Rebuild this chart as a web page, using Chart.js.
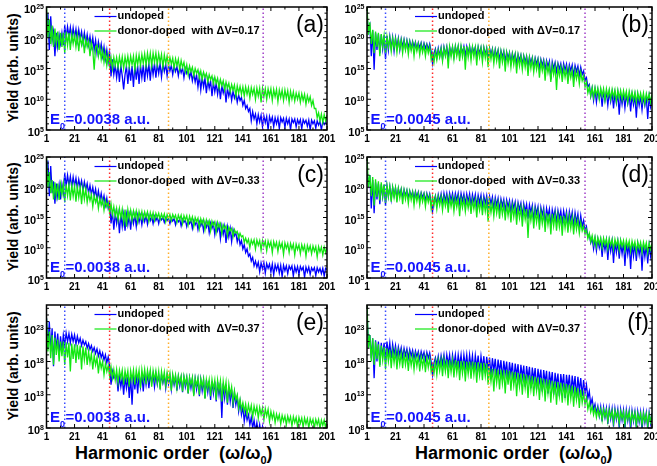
<!DOCTYPE html>
<html>
<head>
<meta charset="utf-8">
<script src="https://cdn.jsdelivr.net/npm/chart.js@4.4.0/dist/chart.umd.min.js"></script>
<style>
body { margin: 0; background: #fff; width: 657px; height: 466px; overflow: hidden; position: relative; font-family: Arial, "Liberation Sans", sans-serif; }
canvas { position: absolute; }
.ytitle { position: absolute; left: 13px; font-weight: bold; font-size: 14px; white-space: nowrap; transform: translate(-50%, -50%) rotate(-90deg); }
.xtitle { position: absolute; top: 444px; font-weight: bold; font-size: 18px; line-height: 18px; white-space: nowrap; }
.xtitle sub { font-size: 11px; }
</style>
</head>
<body>
<div class="ytitle" style="top:68px">Yield (arb. units)</div>
<div class="ytitle" style="top:217px">Yield (arb. units)</div>
<div class="ytitle" style="top:366px">Yield (arb. units)</div>
<div class="xtitle" style="left:75px">Harmonic order&nbsp; (ω/ω<sub>0</sub>)</div>
<div class="xtitle" style="left:415px">Harmonic order&nbsp; (ω/ω<sub>0</sub>)</div>
<script>
// Orden armónico (eje x) y etiquetas
const harmonicOrder = Array.from({ length: 201 }, (_, i) => i + 1);
const xTickLabels = ['1', '21', '41', '61', '81', '101', '121', '141', '161', '181', '201'];

// Líneas verticales punteadas (columna izquierda / derecha)
const vlinesLeft = [14, 46, 88, 155.5];
const vlinesRight = [14, 47, 86.5, 154];
const vlineColors = ['#3a4dff', '#ff2a2a', '#ffae2a', '#a040c8'];

// Rendimiento, log10 (arb. units), un valor por armónico 1..201
const undopedA = [
  21.5, 24.0, 18.0, 23.5, 19.5, 21.0, 17.0, 20.8, 18.5, 20.5,
  19.0, 20.8, 18.8, 22.0, 20.0, 21.8, 20.2, 21.7, 19.8, 21.6,
  20.0, 21.4, 19.5, 21.3, 19.8, 21.0, 19.2, 20.8, 19.0, 20.5,
  18.8, 20.2, 18.5, 20.0, 18.0, 19.6, 17.5, 19.3, 17.8, 19.0,
  17.0, 18.5, 16.5, 18.0, 16.0, 17.5, 13.7, 16.5, 14.0, 15.5,
  13.5, 15.6, 12.8, 15.5, 13.8, 11.6, 14.0, 15.4, 12.5, 15.3,
  13.0, 15.4, 12.0, 15.5, 13.2, 15.5, 12.5, 15.6, 13.5, 15.6,
  12.8, 15.7, 13.8, 15.7, 13.0, 15.8, 14.0, 15.8, 13.5, 15.8,
  14.2, 15.8, 13.6, 15.7, 14.5, 15.7, 13.8, 15.6, 14.6, 15.5,
  14.0, 15.4, 14.5, 15.3, 13.8, 15.2, 14.3, 15.1, 13.5, 15.0,
  14.2, 14.8, 13.5, 14.5, 13.0, 14.2, 12.8, 14.0, 12.0, 13.8,
  11.5, 13.6, 12.0, 13.4, 11.0, 13.2, 11.8, 13.0, 10.5, 12.8,
  11.2, 12.6, 10.8, 12.4, 10.0, 12.2, 11.0, 12.0, 9.5, 11.8,
  10.5, 11.5, 9.8, 11.3, 10.2, 11.0, 9.5, 10.7, 9.8, 10.3,
  9.0, 9.8, 8.5, 9.0, 8.0, 8.5, 6.5, 8.0, 6.8, 7.6,
  6.0, 7.5, 6.3, 7.4, 5.5, 7.3, 6.2, 7.2, 5.0, 7.2,
  6.3, 7.1, 5.5, 7.0, 6.0, 7.0, 5.2, 7.0, 6.3, 6.9,
  5.4, 6.9, 6.0, 6.8, 5.0, 6.8, 6.2, 6.8, 5.5, 6.7,
  6.0, 6.7, 5.2, 6.7, 6.1, 6.6, 5.6, 6.6, 5.0, 6.6,
  6.0, 6.5, 5.3, 6.5, 5.8, 6.4, 5.0, 6.4, 5.9, 6.3,
  5.8
];
const dopedA = [
  25.0, 20.0, 23.0, 19.0, 22.0, 18.5, 21.5, 19.0, 21.0, 18.0,
  20.8, 18.5, 20.8, 17.5, 21.0, 18.8, 20.8, 18.0, 20.6, 19.0,
  20.5, 18.5, 20.4, 17.8, 20.2, 18.8, 20.0, 17.5, 19.8, 18.5,
  19.5, 17.0, 19.2, 18.0, 14.8, 18.5, 18.8, 17.0, 18.5, 16.5,
  18.0, 16.0, 17.6, 15.5, 17.2, 15.5, 16.8, 15.0, 16.8, 15.5,
  16.8, 15.2, 16.9, 15.4, 16.9, 15.0, 16.9, 15.5, 17.0, 15.3,
  17.0, 15.6, 17.0, 14.8, 17.1, 15.6, 17.2, 15.5, 17.3, 15.8,
  17.4, 15.5, 17.5, 15.9, 17.5, 15.4, 17.5, 16.0, 17.5, 15.6,
  17.4, 16.0, 17.3, 15.2, 17.2, 15.8, 17.0, 15.5, 16.8, 15.7,
  16.7, 15.0, 16.6, 15.5, 16.5, 14.8, 16.3, 15.2, 16.0, 14.5,
  15.6, 14.0, 15.4, 14.5, 15.2, 13.8, 15.0, 14.2, 14.8, 13.5,
  14.6, 13.2, 14.4, 13.6, 14.2, 12.8, 14.0, 13.2, 13.8, 12.5,
  13.6, 12.6, 13.4, 11.8, 13.2, 12.2, 13.0, 11.5, 12.8, 11.8,
  12.6, 11.2, 12.4, 11.5, 12.3, 10.5, 12.2, 11.0, 12.1, 10.8,
  12.0, 10.5, 12.0, 10.8, 11.9, 10.2, 11.9, 10.8, 11.8, 10.0,
  11.8, 10.5, 11.8, 9.5, 11.8, 10.4, 11.7, 10.0, 11.7, 10.5,
  11.7, 9.8, 11.6, 10.4, 11.6, 9.6, 11.5, 10.3, 11.5, 9.8,
  11.5, 10.2, 11.4, 9.5, 11.3, 10.0, 11.2, 9.7, 11.0, 10.0,
  11.0, 9.5, 10.9, 9.8, 10.8, 9.2, 10.6, 9.6, 10.4, 9.0,
  9.8, 8.5, 8.5, 7.0, 7.8, 6.5, 7.6, 6.2, 7.5, 6.5,
  7.4
];
const undopedB = [
  23.5, 21.0, 22.0, 17.0, 21.2, 14.8, 20.8, 18.0, 20.6, 17.5,
  20.5, 18.2, 20.4, 16.5, 20.3, 18.0, 20.2, 18.3, 20.1, 17.8,
  20.0, 18.4, 19.9, 18.0, 19.8, 18.5, 19.7, 18.2, 19.6, 18.4,
  19.5, 18.3, 19.4, 18.5, 19.3, 18.2, 19.2, 18.4, 19.2, 18.0,
  19.1, 18.3, 19.0, 18.1, 19.0, 17.8, 15.8, 17.5, 18.2, 16.8,
  18.3, 17.0, 18.4, 16.5, 18.5, 17.2, 18.5, 16.8, 18.5, 17.3,
  18.5, 16.9, 18.6, 17.4, 18.6, 17.0, 18.6, 17.5, 18.6, 17.1,
  18.6, 17.5, 18.6, 17.2, 18.5, 17.6, 18.5, 17.0, 18.5, 17.4,
  18.4, 16.8, 18.4, 17.3, 18.3, 16.5, 18.3, 17.2, 18.2, 16.6,
  18.1, 17.0, 18.0, 16.4, 17.9, 16.9, 17.8, 16.2, 17.7, 16.7,
  17.6, 16.0, 17.5, 16.5, 17.4, 15.8, 17.3, 16.3, 17.2, 15.6,
  17.1, 16.1, 17.0, 15.4, 16.9, 15.9, 16.8, 15.2, 16.7, 15.7,
  16.6, 15.0, 16.5, 15.5, 16.4, 14.8, 16.3, 15.3, 16.2, 13.2,
  16.1, 15.0, 16.0, 14.5, 15.9, 14.9, 15.8, 14.2, 15.8, 14.7,
  15.7, 14.0, 15.6, 14.6, 15.6, 13.8, 15.5, 14.5, 15.4, 13.8,
  15.2, 14.0, 14.6, 13.0, 13.5, 12.0, 12.4, 10.5, 11.8, 9.8,
  11.6, 9.5, 11.5, 10.2, 11.4, 8.8, 11.3, 9.8, 11.2, 9.0,
  11.2, 9.6, 11.1, 8.5, 11.0, 9.4, 11.0, 7.5, 10.9, 9.2,
  10.9, 8.6, 10.8, 9.3, 10.8, 8.0, 10.7, 9.1, 10.6, 7.0,
  10.6, 9.0, 10.5, 8.3, 10.5, 9.0, 10.4, 6.8, 10.4, 8.8,
  10.3
];
const dopedB = [
  25.0, 20.5, 22.5, 19.0, 21.3, 17.5, 21.0, 18.5, 20.8, 17.0,
  20.6, 18.6, 20.4, 17.5, 20.2, 18.5, 20.0, 17.8, 19.9, 18.3,
  19.8, 17.6, 19.7, 18.2, 19.6, 17.5, 19.5, 18.0, 19.4, 17.3,
  19.3, 17.9, 19.2, 17.0, 19.1, 17.8, 19.0, 17.2, 18.9, 17.6,
  18.8, 17.0, 18.7, 17.5, 18.6, 16.5, 17.5, 16.0, 17.8, 16.4,
  18.0, 16.8, 18.2, 16.2, 18.3, 17.0, 18.4, 15.0, 18.5, 16.9,
  18.5, 16.5, 18.6, 17.0, 18.6, 16.2, 18.6, 16.9, 18.6, 14.8,
  18.6, 16.8, 18.5, 16.3, 18.5, 16.9, 18.4, 15.5, 18.4, 16.8,
  18.3, 16.0, 18.3, 16.7, 18.2, 15.2, 18.1, 16.5, 18.0, 15.8,
  17.9, 16.2, 17.8, 15.0, 17.7, 16.0, 17.6, 14.5, 17.5, 15.8,
  17.4, 15.2, 17.3, 15.6, 17.2, 14.2, 17.1, 15.4, 17.0, 14.8,
  16.9, 15.2, 16.8, 13.8, 16.7, 15.0, 16.6, 14.4, 16.4, 14.8,
  16.3, 13.5, 16.1, 14.6, 16.0, 13.0, 15.8, 14.3, 15.6, 12.8,
  15.5, 14.0, 15.4, 11.5, 15.3, 13.8, 15.2, 12.8, 15.1, 13.6,
  15.0, 12.5, 14.9, 13.5, 14.8, 12.0, 14.7, 13.3, 14.6, 12.5,
  14.4, 13.0, 13.8, 12.0, 12.8, 11.0, 12.0, 10.5, 11.9, 10.3,
  11.9, 10.6, 11.8, 10.0, 11.8, 10.5, 11.7, 9.8, 11.7, 10.4,
  11.6, 10.0, 11.6, 10.3, 11.5, 9.6, 11.5, 10.2, 11.4, 9.9,
  11.4, 10.1, 11.3, 9.5, 11.3, 10.0, 11.2, 9.8, 11.1, 9.4,
  11.1, 9.9, 11.0, 9.6, 11.0, 9.3, 10.9, 9.8, 10.9, 9.5,
  10.8
];
const undopedC = [
  21.0, 24.4, 18.5, 23.5, 19.0, 21.0, 17.3, 20.6, 18.5, 20.4,
  18.0, 20.5, 19.0, 22.3, 20.2, 22.0, 20.3, 21.8, 20.0, 21.7,
  20.2, 21.5, 19.8, 21.3, 20.0, 21.1, 19.5, 20.9, 19.6, 20.6,
  19.0, 20.3, 18.8, 20.0, 18.5, 19.7, 18.0, 19.4, 17.8, 19.0,
  17.5, 18.6, 17.0, 18.2, 16.5, 17.3, 14.0, 16.0, 13.0, 15.7,
  14.0, 15.6, 12.4, 15.6, 13.5, 15.5, 12.8, 15.5, 13.8, 15.4,
  13.0, 15.4, 14.0, 15.4, 13.5, 15.4, 14.2, 15.3, 13.8, 15.3,
  14.3, 15.3, 13.9, 15.3, 14.5, 15.2, 14.0, 15.2, 14.5, 15.1,
  14.0, 15.1, 14.6, 15.0, 14.2, 15.0, 14.5, 14.9, 14.0, 14.9,
  14.4, 14.8, 13.8, 14.8, 14.3, 14.7, 13.6, 14.7, 14.2, 14.6,
  13.5, 14.6, 14.0, 14.5, 13.2, 14.5, 13.8, 14.4, 13.0, 14.3,
  13.6, 14.3, 12.8, 14.2, 13.4, 14.2, 12.5, 14.1, 13.2, 14.0,
  12.2, 13.9, 12.8, 13.8, 11.5, 13.6, 12.2, 13.5, 10.8, 13.4,
  11.8, 13.2, 11.0, 13.0, 12.0, 12.5, 11.0, 12.0, 10.5, 11.2,
  9.8, 10.5, 9.2, 9.8, 8.6, 9.0, 7.8, 8.4, 7.0, 7.8,
  6.8, 7.6, 6.0, 7.5, 6.5, 7.5, 5.8, 7.4, 6.6, 7.3,
  6.0, 7.3, 5.5, 7.2, 6.3, 7.2, 5.8, 7.1, 5.2, 7.1,
  6.2, 7.0, 5.7, 7.0, 6.4, 7.0, 5.3, 6.9, 6.0, 6.9,
  5.6, 6.9, 6.3, 6.8, 5.1, 6.8, 6.0, 6.8, 5.6, 6.7,
  6.2, 6.7, 5.4, 6.7, 6.0, 6.6, 5.7, 6.6, 5.3, 6.6,
  6.4
];
const dopedC = [
  25.0, 20.0, 22.5, 19.0, 21.2, 18.0, 20.8, 18.5, 20.6, 17.9,
  20.5, 18.8, 20.6, 17.5, 20.5, 18.6, 20.4, 17.8, 20.3, 18.5,
  20.2, 17.6, 20.1, 18.3, 20.0, 17.2, 19.9, 18.0, 19.8, 17.5,
  19.0, 17.8, 18.8, 16.8, 18.6, 17.5, 18.4, 16.5, 18.2, 17.0,
  18.0, 16.2, 17.8, 16.8, 17.5, 15.8, 17.3, 15.5, 16.8, 15.2,
  16.5, 14.6, 16.5, 15.0, 16.4, 14.2, 16.3, 13.5, 16.3, 14.8,
  16.2, 14.5, 16.1, 15.0, 16.1, 14.3, 16.0, 14.9, 16.0, 14.6,
  15.9, 15.0, 15.9, 14.4, 15.8, 14.8, 15.8, 14.5, 15.7, 15.0,
  15.7, 14.6, 15.6, 14.9, 15.6, 14.3, 15.5, 14.8, 15.5, 14.5,
  15.5, 14.9, 15.4, 14.2, 15.4, 14.7, 15.4, 14.0, 15.3, 14.6,
  15.3, 13.8, 15.2, 14.4, 15.1, 13.5, 15.0, 14.3, 14.9, 13.2,
  14.8, 14.0, 14.7, 13.0, 14.6, 13.8, 14.5, 12.8, 14.4, 13.7,
  14.3, 12.6, 14.2, 13.4, 14.0, 12.3, 13.8, 13.2, 13.6, 12.0,
  13.4, 12.8, 13.2, 11.8, 13.0, 12.4, 12.7, 11.6, 12.4, 11.8,
  12.0, 10.9, 11.6, 10.8, 11.4, 10.0, 11.3, 10.6, 11.3, 9.8,
  11.3, 10.4, 11.2, 9.6, 11.2, 10.3, 11.1, 9.5, 11.1, 10.2,
  11.0, 9.2, 11.0, 10.1, 10.9, 9.4, 10.9, 10.0, 10.8, 8.9,
  10.8, 9.9, 10.7, 9.2, 10.7, 9.8, 10.6, 8.8, 10.6, 9.7,
  10.5, 9.0, 10.5, 9.6, 10.4, 8.6, 10.4, 9.5, 10.3, 9.0,
  10.3, 9.4, 10.2, 8.5, 10.2, 9.3, 10.1, 8.8, 10.1, 9.2,
  10.0
];
const undopedD = [
  22.5, 20.5, 22.0, 16.5, 21.2, 15.7, 20.8, 18.0, 20.6, 17.2,
  20.5, 18.4, 20.4, 17.0, 20.2, 18.5, 20.1, 18.0, 20.0, 18.6,
  19.9, 18.2, 19.8, 18.7, 19.7, 18.3, 19.6, 18.6, 19.5, 18.2,
  19.4, 18.5, 19.3, 18.1, 19.3, 18.4, 19.2, 18.0, 19.1, 18.3,
  19.0, 17.8, 19.0, 18.0, 18.9, 17.5, 16.0, 17.8, 18.6, 17.2,
  18.8, 17.6, 18.9, 17.2, 19.0, 17.7, 19.0, 17.3, 19.0, 17.8,
  19.0, 17.4, 19.0, 17.8, 19.0, 17.3, 19.0, 17.7, 18.9, 17.2,
  18.9, 17.6, 18.9, 17.0, 18.8, 17.5, 18.8, 16.8, 18.7, 17.4,
  18.7, 16.7, 18.6, 17.3, 18.6, 16.5, 18.5, 17.2, 18.4, 16.4,
  18.3, 17.0, 18.2, 16.2, 18.1, 16.9, 18.0, 16.0, 17.9, 16.7,
  17.8, 15.8, 17.7, 16.5, 17.6, 15.5, 17.5, 16.3, 17.4, 15.2,
  17.3, 16.0, 17.2, 14.8, 17.1, 15.8, 17.0, 14.5, 16.9, 15.6,
  16.8, 14.2, 16.7, 15.4, 16.6, 13.8, 16.5, 15.2, 16.4, 13.5,
  16.3, 15.0, 16.3, 14.2, 16.2, 14.8, 16.1, 14.0, 16.1, 14.6,
  16.0, 13.8, 16.0, 14.5, 15.9, 13.6, 15.8, 14.2, 15.6, 13.2,
  15.3, 13.5, 14.5, 12.8, 13.5, 11.8, 12.2, 10.8, 11.6, 9.8,
  11.5, 9.5, 11.4, 10.0, 11.3, 8.5, 11.2, 9.6, 11.2, 8.0,
  11.1, 9.4, 11.1, 7.5, 11.0, 9.2, 11.0, 8.2, 10.9, 9.0,
  10.9, 7.0, 10.8, 8.9, 10.8, 6.5, 10.7, 8.6, 10.7, 7.8,
  10.6, 8.8, 10.6, 6.2, 10.5, 8.5, 10.5, 7.4, 10.4, 8.6,
  10.4
];
const dopedD = [
  25.0, 20.0, 22.0, 18.5, 21.7, 17.0, 21.3, 18.4, 21.0, 17.8,
  20.8, 18.5, 20.5, 17.4, 20.3, 18.4, 20.1, 17.6, 20.0, 18.3,
  19.9, 17.5, 19.8, 18.2, 19.6, 17.2, 19.5, 18.0, 19.4, 17.3,
  19.3, 17.9, 19.2, 17.0, 19.1, 17.7, 19.0, 17.1, 18.9, 17.6,
  18.8, 16.8, 18.7, 17.5, 18.6, 16.5, 18.4, 17.0, 18.4, 16.4,
  18.4, 17.0, 18.4, 16.2, 18.3, 16.9, 18.3, 15.8, 18.3, 16.8,
  18.2, 16.0, 18.2, 16.7, 18.2, 15.2, 18.1, 16.6, 18.1, 16.0,
  18.0, 16.5, 18.0, 15.6, 17.9, 16.4, 17.9, 15.0, 17.8, 16.2,
  17.8, 15.4, 17.7, 16.0, 17.7, 14.3, 17.6, 15.8, 17.5, 15.2,
  17.5, 15.7, 17.4, 14.8, 17.3, 15.5, 17.2, 14.5, 17.1, 15.3,
  17.0, 14.2, 16.9, 15.1, 16.8, 13.8, 16.7, 14.9, 16.6, 13.5,
  16.5, 14.7, 16.4, 11.6, 16.3, 14.5, 16.2, 13.2, 16.1, 14.2,
  16.0, 13.0, 15.9, 14.0, 15.8, 12.6, 15.7, 13.8, 15.6, 12.2,
  15.6, 13.6, 15.5, 12.8, 15.4, 13.4, 15.3, 12.0, 15.3, 13.3,
  15.2, 12.5, 15.1, 13.2, 15.0, 12.2, 14.8, 13.0, 14.6, 12.4,
  14.2, 12.8, 13.6, 12.2, 13.0, 11.5, 12.4, 11.0, 12.0, 10.6,
  11.8, 10.2, 11.7, 10.6, 11.6, 10.0, 11.6, 10.5, 11.5, 9.8,
  11.5, 10.4, 11.4, 9.7, 11.4, 10.3, 11.3, 9.6, 11.3, 10.2,
  11.2, 9.5, 11.2, 10.1, 11.1, 9.4, 11.1, 10.0, 11.0, 9.3,
  11.0, 9.9, 10.9, 9.2, 10.9, 9.8, 10.8, 9.1, 10.8, 9.7,
  10.7
];
const undopedE = [
  24.5, 20.0, 24.0, 19.5, 23.0, 17.3, 22.5, 19.8, 22.2, 19.0,
  21.8, 19.5, 22.0, 20.5, 22.3, 21.0, 22.2, 20.8, 22.1, 21.0,
  22.0, 20.6, 21.8, 20.8, 21.5, 20.4, 21.2, 20.5, 21.0, 20.0,
  20.7, 19.8, 20.4, 19.5, 20.1, 19.2, 19.9, 18.8, 19.6, 18.6,
  19.3, 18.2, 19.0, 17.8, 18.7, 17.4, 14.5, 16.5, 15.5, 15.8,
  16.0, 13.5, 15.8, 14.2, 15.6, 13.0, 15.6, 14.0, 15.7, 12.5,
  15.8, 11.5, 16.0, 13.8, 16.0, 13.2, 16.1, 14.2, 16.1, 13.5,
  16.2, 14.5, 16.2, 14.0, 16.2, 14.8, 16.1, 14.2, 16.1, 14.6,
  16.0, 14.3, 16.0, 14.8, 15.9, 14.0, 15.9, 14.6, 15.8, 13.8,
  15.8, 14.5, 15.7, 13.6, 15.7, 14.3, 15.6, 13.4, 15.6, 14.2,
  15.5, 13.2, 15.5, 14.0, 15.4, 13.0, 15.4, 13.8, 15.3, 12.8,
  15.3, 13.6, 15.2, 12.5, 15.2, 13.4, 15.1, 12.2, 15.0, 13.2,
  15.0, 12.0, 14.9, 13.0, 14.8, 9.5, 14.7, 12.5, 14.5, 11.5,
  14.2, 12.0, 13.8, 11.0, 13.3, 11.5, 12.7, 10.5, 12.0, 10.0,
  11.2, 9.0, 10.5, 9.2, 10.0, 8.5, 9.6, 8.0, 9.2, 7.5,
  8.8, 7.2, 8.5, 7.0, 8.2, 6.8, 7.8, 6.5, 7.5, 6.5,
  7.3, 6.4, 7.2, 6.3, 7.1, 6.2, 7.0, 6.2, 7.0, 6.1,
  7.0, 6.1, 6.9, 6.0, 6.9, 6.0, 6.8, 6.0, 6.8, 6.0,
  6.8, 6.0, 6.7, 6.0, 6.7, 6.0, 6.7, 6.0, 6.6, 6.0,
  6.6, 6.0, 6.6, 6.0, 6.5, 6.0, 6.5, 6.0, 6.5, 6.0,
  6.5
];
const dopedE = [
  24.5, 19.5, 22.5, 18.5, 22.0, 17.5, 21.6, 19.0, 21.3, 18.0,
  21.0, 18.8, 21.0, 17.5, 20.9, 18.6, 20.8, 16.5, 20.7, 18.4,
  20.6, 17.8, 20.5, 18.3, 20.4, 16.8, 20.3, 18.2, 20.1, 17.5,
  19.5, 17.8, 19.2, 16.8, 18.9, 17.5, 18.6, 16.2, 18.3, 17.0,
  18.0, 16.0, 17.7, 16.5, 17.4, 15.8, 17.2, 15.5, 16.8, 15.2,
  16.8, 14.8, 16.7, 15.5, 16.7, 14.5, 16.6, 15.3, 16.6, 14.2,
  16.6, 15.2, 16.7, 14.5, 16.7, 15.3, 16.7, 14.0, 16.8, 15.2,
  16.8, 14.6, 16.7, 15.3, 16.7, 14.2, 16.6, 15.2, 16.6, 14.8,
  16.5, 13.8, 16.5, 15.0, 16.4, 14.4, 16.3, 15.0, 16.2, 13.6,
  16.1, 14.8, 16.0, 14.0, 15.9, 14.7, 15.8, 13.5, 15.8, 14.6,
  15.7, 13.2, 15.6, 14.5, 15.6, 12.8, 15.5, 14.3, 15.5, 13.0,
  15.4, 14.2, 15.4, 12.4, 15.3, 14.0, 15.3, 12.8, 15.3, 13.8,
  15.2, 12.2, 15.2, 13.6, 15.1, 12.0, 15.0, 13.4, 14.9, 11.8,
  14.6, 13.0, 14.2, 11.8, 13.6, 12.2, 13.0, 11.0, 12.3, 10.8,
  11.8, 10.5, 11.6, 10.0, 11.5, 10.3, 11.4, 9.6, 11.3, 10.2,
  11.2, 9.5, 11.1, 10.0, 11.0, 9.2, 10.9, 9.8, 10.8, 9.0,
  10.5, 9.4, 10.3, 8.8, 10.1, 9.2, 10.0, 8.6, 9.9, 9.0,
  9.8, 8.5, 9.8, 8.9, 9.7, 8.3, 9.7, 8.8, 9.6, 8.2,
  9.6, 8.7, 9.5, 8.1, 9.5, 8.6, 9.4, 8.0, 9.4, 8.6,
  9.3, 8.0, 9.3, 8.5, 9.3, 7.9, 9.2, 8.4, 9.2, 8.0,
  9.2
];
const undopedF = [
  25.7, 20.0, 22.0, 18.5, 21.5, 15.5, 21.2, 18.0, 21.0, 17.5,
  20.8, 18.8, 20.8, 18.0, 21.0, 19.0, 20.8, 18.5, 20.6, 19.0,
  20.4, 18.6, 20.2, 19.0, 20.1, 18.6, 20.0, 18.9, 19.9, 18.5,
  19.8, 18.8, 19.7, 18.4, 19.6, 18.7, 19.5, 18.3, 19.5, 18.6,
  19.4, 18.2, 19.4, 18.5, 19.3, 18.0, 16.0, 17.8, 18.6, 17.5,
  18.8, 17.2, 18.9, 17.6, 19.0, 17.0, 19.0, 17.5, 19.0, 16.8,
  19.0, 17.4, 19.0, 16.8, 19.0, 17.3, 19.0, 16.7, 19.0, 17.2,
  19.0, 16.6, 19.0, 17.1, 18.9, 16.5, 18.9, 17.0, 18.9, 16.4,
  18.8, 16.9, 18.8, 16.2, 18.7, 16.8, 18.6, 15.8, 18.5, 16.6,
  18.4, 15.6, 18.3, 16.4, 18.2, 15.3, 18.1, 16.2, 18.0, 15.0,
  17.9, 16.0, 17.8, 14.8, 17.7, 15.8, 17.6, 14.5, 17.5, 15.6,
  17.4, 14.2, 17.3, 15.4, 17.2, 14.0, 17.1, 15.2, 17.0, 13.8,
  16.9, 15.0, 16.8, 13.5, 16.7, 14.8, 16.6, 13.2, 16.5, 14.6,
  16.4, 13.0, 16.3, 14.4, 16.2, 12.8, 16.1, 14.2, 16.1, 12.5,
  16.0, 14.0, 16.0, 12.8, 15.9, 13.8, 15.8, 12.5, 15.7, 13.5,
  15.5, 12.8, 15.2, 13.2, 14.5, 12.5, 13.5, 11.5, 12.4, 10.8,
  11.6, 10.2, 11.3, 9.8, 11.2, 9.0, 11.1, 9.6, 11.0, 8.6,
  11.0, 9.4, 10.9, 8.2, 10.9, 9.3, 10.8, 8.0, 10.8, 9.2,
  10.7, 7.8, 10.7, 9.1, 10.6, 7.5, 10.6, 9.0, 10.5, 8.0,
  10.5, 8.9, 10.4, 7.6, 10.4, 8.8, 10.3, 7.8, 10.3, 8.7,
  10.2
];
const dopedF = [
  26.5, 20.0, 22.0, 18.0, 21.5, 17.5, 21.0, 18.4, 20.6, 17.2,
  20.4, 18.2, 20.2, 16.8, 20.0, 18.0, 19.8, 17.0, 19.6, 17.8,
  19.5, 16.8, 19.4, 17.6, 19.3, 17.0, 19.2, 17.5, 19.1, 16.6,
  19.0, 17.4, 18.9, 16.8, 18.9, 17.3, 18.8, 16.5, 18.7, 17.2,
  18.6, 16.4, 18.6, 17.1, 18.5, 16.5, 17.5, 16.2, 18.0, 16.0,
  18.2, 16.6, 18.2, 15.8, 18.3, 16.5, 18.3, 15.5, 18.2, 16.4,
  18.2, 15.6, 18.2, 16.3, 18.1, 15.2, 18.1, 16.2, 18.1, 15.0,
  18.0, 16.1, 18.0, 15.4, 18.0, 16.0, 17.9, 14.8, 17.9, 15.9,
  17.8, 15.2, 17.8, 15.8, 17.7, 14.5, 17.0, 15.0, 16.9, 13.5,
  16.9, 14.8, 16.8, 13.8, 16.8, 14.7, 16.7, 13.2, 16.7, 14.5,
  16.6, 13.6, 16.5, 14.4, 16.4, 12.8, 16.3, 14.2, 16.2, 13.0,
  16.1, 14.0, 16.0, 12.5, 15.9, 13.8, 15.8, 12.8, 15.7, 13.6,
  15.6, 12.2, 15.5, 13.4, 15.4, 12.0, 15.3, 13.2, 15.2, 11.8,
  15.1, 13.0, 15.0, 11.5, 14.9, 12.8, 14.8, 11.8, 14.7, 12.6,
  14.6, 11.4, 14.5, 12.4, 14.4, 11.2, 14.2, 12.2, 14.0, 11.0,
  13.8, 11.8, 13.2, 11.5, 12.6, 10.8, 11.8, 10.4, 11.3, 10.0,
  11.0, 9.6, 10.9, 9.8, 10.8, 9.2, 10.8, 9.7, 10.7, 9.0,
  10.7, 9.6, 10.6, 8.8, 10.6, 9.5, 10.5, 8.7, 10.5, 9.4,
  10.4, 8.5, 10.4, 9.3, 10.4, 8.6, 10.3, 9.2, 10.3, 8.4,
  10.2, 9.1, 10.2, 8.5, 10.2, 9.0, 10.1, 8.3, 10.1, 8.9,
  10.0
];

// Ejes y (exponentes de 10)
const yMajorTop = [5, 10, 15, 20, 25];
const yMajorBottom = [8, 13, 18, 23];

const FONT = 'Arial, "Liberation Sans", sans-serif';
const BLUE = '#0000ff';
const GREEN = '#12e812';

// Geometría de los paneles (área del gráfico, en píxeles de la página)
const colLeft = [46.5, 367];
const colRight = [327, 652];
const colCanvasX = [0, 330];
const colCanvasW = [340, 327];
const rowTop = [7, 157, 305];
const rowBottom = [130, 278, 428];

const panels = [
  { tag: '(a)', col: 0, row: 0, undoped: undopedA, doped: dopedA, legend: 'donor-doped  with \u0394V=0.17', e0: '0.0038' },
  { tag: '(b)', col: 1, row: 0, undoped: undopedB, doped: dopedB, legend: 'donor-doped  with \u0394V=0.17', e0: '0.0045' },
  { tag: '(c)', col: 0, row: 1, undoped: undopedC, doped: dopedC, legend: 'donor-doped  with \u0394V=0.33', e0: '0.0038' },
  { tag: '(d)', col: 1, row: 1, undoped: undopedD, doped: dopedD, legend: 'donor-doped  with \u0394V=0.33', e0: '0.0045' },
  { tag: '(e)', col: 0, row: 2, undoped: undopedE, doped: dopedE, legend: 'donor-doped with  \u0394V=0.37', e0: '0.0038' },
  { tag: '(f)', col: 1, row: 2, undoped: undopedF, doped: dopedF, legend: 'donor-doped  with \u0394V=0.37', e0: '0.0045' }
];

function toPoints(logs) {
  return logs.map((e, i) => ({ x: harmonicOrder[i], y: Math.pow(10, e) }));
}

function seg(ctx, x1, y1, x2, y2) {
  ctx.beginPath(); ctx.moveTo(x1, y1); ctx.lineTo(x2, y2); ctx.stroke();
}

// Marco, marcas, etiquetas, leyenda y textos del panel
const framePlugin = {
  id: 'frame',
  afterDraw(chart, args, o) {
    const { ctx, chartArea: a, scales: { x, y } } = chart;
    ctx.save();
    ctx.strokeStyle = '#000';
    ctx.fillStyle = '#000';

    // marcas del eje x (abajo y arriba)
    ctx.lineWidth = 1;
    for (let v = 1; v <= 201; v += 10) {
      const px = x.getPixelForValue(v);
      const len = (v - 1) % 20 === 0 ? 4 : 2.5;
      seg(ctx, px, a.bottom, px, a.bottom - len);
      seg(ctx, px, a.top, px, a.top + len);
    }
    // marcas del eje y (izquierda y derecha)
    for (let e = Math.ceil(o.yMin); e <= Math.floor(o.yMax); e++) {
      const py = y.getPixelForValue(Math.pow(10, e));
      const len = o.majors.includes(e) ? 4 : 2.5;
      seg(ctx, a.left, py, a.left + len, py);
      seg(ctx, a.right, py, a.right - len, py);
    }
    // marco
    ctx.lineWidth = 1.5;
    ctx.strokeRect(a.left, a.top, a.right - a.left, a.bottom - a.top);

    // etiquetas x
    ctx.font = 'bold 10px ' + FONT;
    ctx.textAlign = 'center';
    ctx.textBaseline = 'top';
    xTickLabels.forEach(t => {
      ctx.fillText(t, x.getPixelForValue(Number(t)), a.bottom + 4);
    });

    // etiquetas y: 10 con exponente
    o.majors.forEach(e => {
      const py = y.getPixelForValue(Math.pow(10, e));
      ctx.textBaseline = 'alphabetic';
      ctx.textAlign = 'right';
      ctx.font = 'bold 7px ' + FONT;
      const sup = String(e);
      const supW = ctx.measureText(sup).width;
      ctx.fillText(sup, a.left - 2.5, py + 1.5);
      ctx.font = 'bold 11px ' + FONT;
      ctx.fillText('10', a.left - 2.5 - supW, py + 6);
    });

    // leyenda
    const lx = a.left + 48;
    ctx.lineWidth = 1.2;
    ctx.strokeStyle = BLUE;
    seg(ctx, lx, a.top + 9.5, lx + 22, a.top + 9.5);
    ctx.strokeStyle = GREEN;
    seg(ctx, lx, a.top + 24, lx + 22, a.top + 24);
    ctx.font = 'bold 11px ' + FONT;
    ctx.textAlign = 'left';
    ctx.textBaseline = 'middle';
    ctx.fillStyle = '#000';
    ctx.fillText('undoped', lx + 23, a.top + 9);
    ctx.fillText(o.legend, lx + 23, a.top + 23.5);

    // etiqueta del panel
    ctx.font = '23px ' + FONT;
    ctx.textAlign = 'right';
    ctx.textBaseline = 'alphabetic';
    ctx.fillText(o.tag, a.right - 3, a.top + 25);

    // campo E0
    ctx.fillStyle = '#1414ff';
    ctx.textAlign = 'left';
    let tx = a.left + 3.5;
    const base = a.bottom - 6;
    ctx.font = 'bold 15px ' + FONT;
    ctx.fillText('E', tx, base);
    tx += ctx.measureText('E').width;
    ctx.font = 'bold 9px ' + FONT;
    ctx.fillText('0', tx, base + 5);
    tx += ctx.measureText('0').width + 0.5;
    ctx.font = 'bold 15px ' + FONT;
    ctx.fillText('=' + o.e0 + ' a.u.', tx, base);

    ctx.restore();
  }
};

panels.forEach(p => {
  const bottomRow = p.row === 2;
  const yMin = bottomRow ? 8 : 5;
  const yMax = bottomRow ? 26.5 : 25;
  const canvasTop = rowTop[p.row] - 7;
  const canvasH = rowBottom[p.row] - canvasTop + 18;
  const cx = colCanvasX[p.col];
  const cw = colCanvasW[p.col];

  const canvas = document.createElement('canvas');
  canvas.width = cw;
  canvas.height = canvasH;
  canvas.style.left = cx + 'px';
  canvas.style.top = canvasTop + 'px';
  document.body.appendChild(canvas);

  const vlines = p.col === 0 ? vlinesLeft : vlinesRight;
  const lineSets = vlines.map((v, i) => ({
    data: [{ x: v, y: Math.pow(10, yMin) }, { x: v, y: Math.pow(10, yMax) }],
    borderColor: vlineColors[i],
    borderWidth: 1.5,
    borderDash: [1.5, 2.5],
    order: 1
  }));

  new Chart(canvas.getContext('2d'), {
    type: 'line',
    data: {
      datasets: [
        ...lineSets,
        { label: 'donor-doped', data: toPoints(p.doped), borderColor: GREEN, borderWidth: 1.3, order: 2 },
        { label: 'undoped', data: toPoints(p.undoped), borderColor: BLUE, borderWidth: 1.3, order: 3 }
      ]
    },
    options: {
      responsive: false,
      animation: false,
      events: [],
      layout: {
        padding: {
          left: colLeft[p.col] - cx,
          right: cx + cw - colRight[p.col],
          top: 7,
          bottom: 18
        }
      },
      elements: { point: { radius: 0 }, line: { tension: 0 } },
      scales: {
        x: { type: 'linear', min: 1, max: 201, display: false },
        y: { type: 'logarithmic', min: Math.pow(10, yMin), max: Math.pow(10, yMax), display: false }
      },
      plugins: {
        legend: { display: false },
        tooltip: { enabled: false },
        frame: {
          tag: p.tag, legend: p.legend, e0: p.e0, yMin: yMin, yMax: yMax,
          majors: bottomRow ? yMajorBottom : yMajorTop
        }
      }
    },
    plugins: [framePlugin]
  });
});
</script>
</body>
</html>
